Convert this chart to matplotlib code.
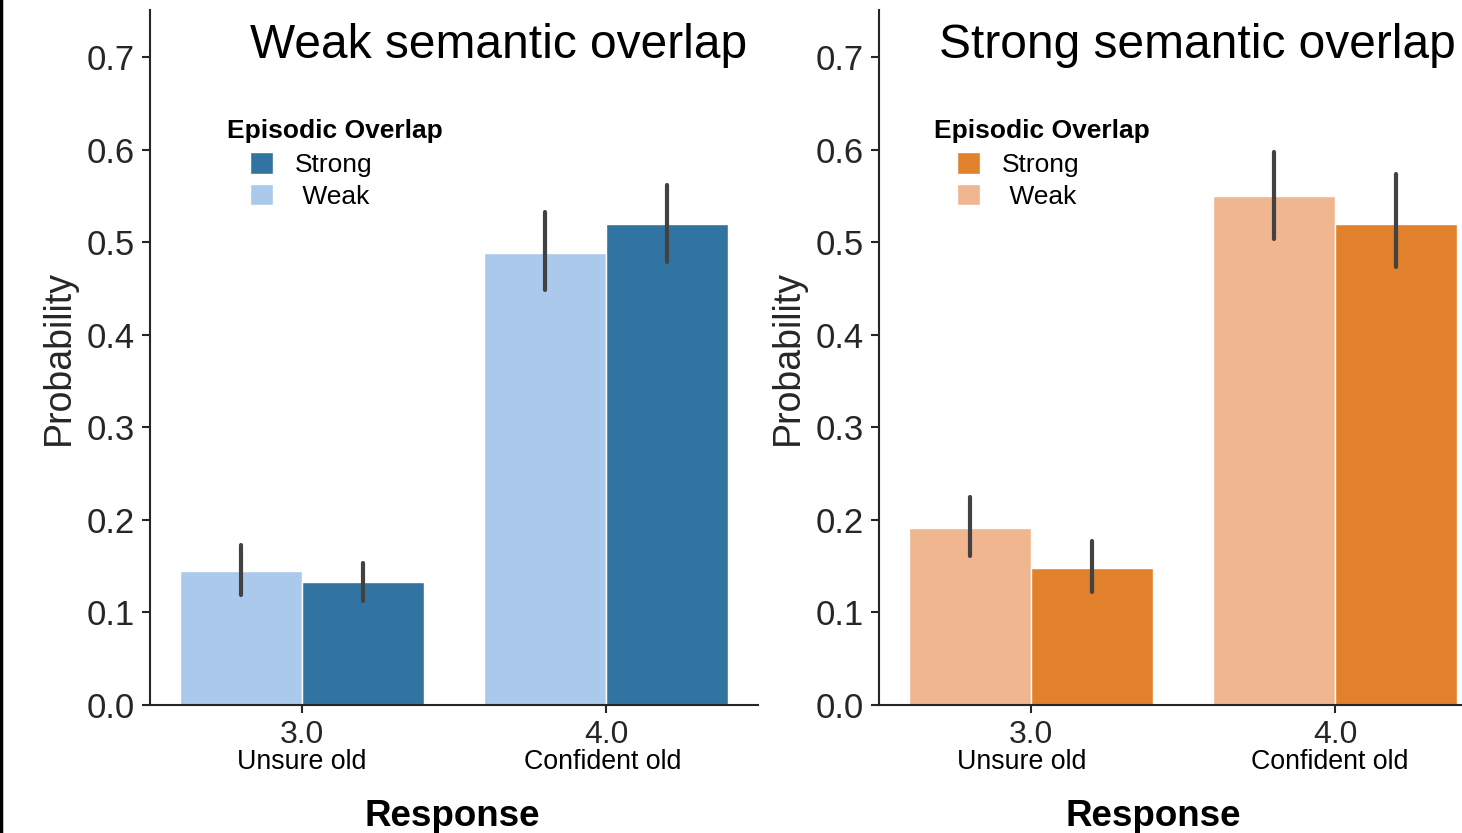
import numpy as np
import matplotlib
matplotlib.use("Agg")
import matplotlib.pyplot as plt
from matplotlib.lines import Line2D
from matplotlib.patches import Patch

plt.rcParams['font.family'] = ['Liberation Sans', 'DejaVu Sans']

# Response levels on the x axis
responses = ["3.0", "4.0"]
response_names = ["Unsure old", "Confident old"]

# Weak semantic overlap panel: mean probability and CI bounds
weak_sem_weak_ep = [0.145, 0.488]
weak_sem_weak_ep_lo = [0.119, 0.448]
weak_sem_weak_ep_hi = [0.173, 0.533]
weak_sem_strong_ep = [0.133, 0.520]
weak_sem_strong_ep_lo = [0.112, 0.479]
weak_sem_strong_ep_hi = [0.153, 0.562]

# Strong semantic overlap panel
strong_sem_weak_ep = [0.191, 0.550]
strong_sem_weak_ep_lo = [0.161, 0.504]
strong_sem_weak_ep_hi = [0.225, 0.598]
strong_sem_strong_ep = [0.148, 0.520]
strong_sem_strong_ep_lo = [0.122, 0.473]
strong_sem_strong_ep_hi = [0.177, 0.574]

blue_strong, blue_weak = "#3274a1", "#abc9eb"
orange_strong, orange_weak = "#e1812c", "#f0b690"
err_color = "#424242"
ink = "#262626"

fig = plt.figure(figsize=(14.62, 8.33), dpi=100)
ax1 = fig.add_axes([150 / 1462, 128 / 833, 608 / 1462, 695 / 833])
ax2 = fig.add_axes([879 / 1462, 128 / 833, 608 / 1462, 695 / 833])


def draw_panel(ax, weak, weak_lo, weak_hi, strong, strong_lo, strong_hi,
               c_weak, c_strong, title, title_x, resp_x, name_shift, leg_x):
    x = np.arange(len(responses))
    w = 0.4
    ax.bar(x - w / 2, weak, width=w, color=c_weak, edgecolor="white", linewidth=1)
    ax.bar(x + w / 2, strong, width=w, color=c_strong, edgecolor="white", linewidth=1)
    for xs, lo, hi in [(x - w / 2, weak_lo, weak_hi), (x + w / 2, strong_lo, strong_hi)]:
        for xi, l, h in zip(xs, lo, hi):
            ax.plot([xi, xi], [l, h], color=err_color, lw=3, solid_capstyle="round")

    ax.set_xlim(-0.5, 1.5)
    ax.set_ylim(0, 0.751)
    ax.set_yticks(np.arange(0, 0.71, 0.1))
    ax.set_yticklabels([f"{v:.1f}" for v in np.arange(0, 0.71, 0.1)])
    ax.set_xticks(x)
    ax.set_xticklabels(responses)
    ax.tick_params(axis="y", labelsize=25, colors=ink, length=6, width=1.5, pad=5)
    ax.tick_params(axis="x", labelsize=23, colors=ink, length=6, width=1.5, pad=5)
    for lab in ax.get_xticklabels() + ax.get_yticklabels():
        lab.set_color(ink)
    # response names sit under the numeric tick labels
    for xi, name, dx in zip(x, response_names, name_shift):
        ax.text(xi + dx, -0.082, name, transform=ax.get_xaxis_transform(),
                ha="center", va="center", fontsize=19.3, color="black")

    for side in ["top", "right"]:
        ax.spines[side].set_visible(False)
    for side in ["left", "bottom"]:
        ax.spines[side].set_linewidth(1.5)
        ax.spines[side].set_color(ink)

    ax.set_ylabel("Probability", fontsize=27, color=ink, labelpad=7)
    ax.set_xlabel("Response", fontsize=26.5, fontweight="bold", color="black")
    ax.xaxis.set_label_coords(resp_x, -0.135)

    fig.text(title_x / 1462, 1 - 45 / 833, title, fontsize=34.5, ha="center",
             va="center", color="black")

    # legend: bold title as its own text, entries indented below it
    ax.text(leg_x, (705 - 131) / 695, "Episodic Overlap", transform=ax.transAxes,
            fontsize=19, fontweight="bold", ha="left", va="center", color="black")
    handles = [Patch(facecolor=c_strong, edgecolor="white"),
               Patch(facecolor=c_weak, edgecolor="white")]
    ax.legend(handles, ["Strong", " Weak"], loc="upper left",
              bbox_to_anchor=(leg_x + 0.038, 0.795), frameon=False,
              fontsize=19, handlelength=0.85, handleheight=0.85,
              handletextpad=0.85, labelspacing=0.27, borderaxespad=0,
              borderpad=0)


draw_panel(ax1, weak_sem_weak_ep, weak_sem_weak_ep_lo, weak_sem_weak_ep_hi,
           weak_sem_strong_ep, weak_sem_strong_ep_lo, weak_sem_strong_ep_hi,
           blue_weak, blue_strong, "Weak semantic overlap", 499, 0.497,
           [0.0, -0.012], 0.127)
draw_panel(ax2, strong_sem_weak_ep, strong_sem_weak_ep_lo, strong_sem_weak_ep_hi,
           strong_sem_strong_ep, strong_sem_strong_ep_lo, strong_sem_strong_ep_hi,
           orange_weak, orange_strong, "Strong semantic overlap", 1197, 0.451,
           [-0.03, -0.016], 0.0905)

# thin dark border along the left edge
fig.add_artist(Line2D([0.001, 0.001], [0, 1], transform=fig.transFigure,
                      color="black", lw=2.5))

fig.savefig("out.png", dpi=100)
